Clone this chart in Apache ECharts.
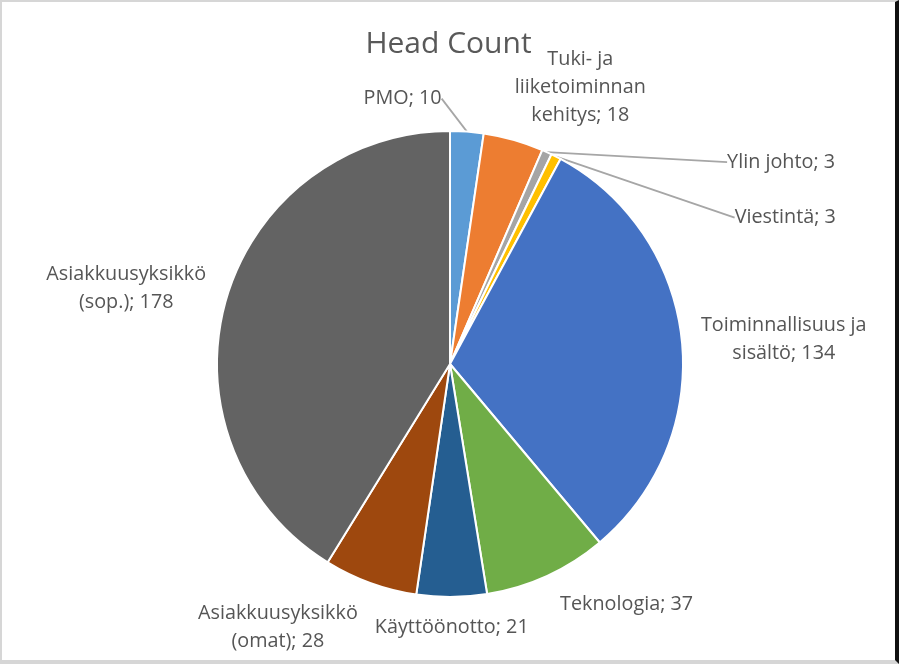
<!DOCTYPE html>
<html>
<head>
<meta charset="utf-8">
<script src="https://cdn.jsdelivr.net/npm/echarts@6/dist/echarts.min.js"></script>
<style>
  html, body { margin: 0; padding: 0; background: #fff; }
  #frame {
    position: absolute; left: 0; top: 0; width: 899px; height: 664px;
    box-sizing: border-box;
    border-left: 2px solid #d6d6d6; border-top: 2px solid #d6d6d6;
    border-right: 4px solid #111; border-bottom: 4px solid #d6d6d6;
  }
  #chart { width: 893px; height: 658px; }
</style>
</head>
<body>
<div id="frame"><div id="chart"></div></div>
<script>
// ---- data ----
const categories = ['PMO', 'Tuki- ja liiketoiminnan kehitys', 'Ylin johto', 'Viestintä',
  'Toiminnallisuus ja sisältö', 'Teknologia', 'Käyttöönotto',
  'Asiakkuusyksikkö (omat)', 'Asiakkuusyksikkö (sop.)'];
const values = [10, 18, 3, 3, 134, 37, 21, 28, 178];

// ---- styling ----
const colors = ['#5B9BD5', '#ED7D31', '#A5A5A5', '#FFC000', '#4472C4', '#70AD47', '#255E91', '#9E480E', '#636363'];
const labelLines = ['PMO', 'Tuki- ja\nliiketoiminnan\nkehitys', 'Ylin johto', 'Viestintä',
  'Toiminnallisuus ja\nsisältö', 'Teknologia', 'Käyttöönotto',
  'Asiakkuusyksikkö\n(omat)', 'Asiakkuusyksikkö\n(sop.)'];
const showLine = [true, false, true, true, false, false, false, false, false];
// label shift from library default: [dx, dy, align]
const labelShift = [
  [-31, -23, 'right'],
  [59, -43, 'center'],
  [171, 19, 'left'],
  [169, 70, 'left'],
  [87, 0, 'center'],
  [4, 19, 'left'],
  [-5, 20, 'center'],
  [-84, 35, 'center'],
  [-85, -9, 'center']
];

const chart = echarts.init(document.getElementById('chart'));
const option = {
  animation: false,
  title: {
    text: 'Head Count', left: 'center', top: 22,
    textStyle: { fontFamily: 'Open Sans', fontSize: 30, fontWeight: 'normal', color: '#595959' }
  },
  series: [{
    type: 'pie',
    center: [448, 362],
    radius: 233,
    startAngle: 90,
    clockwise: true,
    avoidLabelOverlap: false,
    itemStyle: { borderColor: '#fff', borderWidth: 2 },
    label: {
      show: true, position: 'outside',
      fontFamily: 'Open Sans', fontSize: 19.8, color: '#555555', lineHeight: 28,
      formatter: p => labelLines[p.dataIndex] + '; ' + p.value
    },
    labelLine: { show: false, length: 10, length2: 0, lineStyle: { color: '#A6A6A6', width: 1.8 } },
    labelLayout: function (params) {
      const s = labelShift[params.dataIndex];
      const r = params.labelRect;
      const ax = params.align === 'right' ? r.x + r.width : (params.align === 'center' ? r.x + r.width / 2 : r.x);
      const ay = r.y + r.height / 2;
      return { x: ax + s[0], y: ay + s[1], align: s[2], verticalAlign: 'middle' };
    },
    emphasis: { disabled: true },
    data: categories.map((c, i) => ({
      name: c, value: values[i],
      itemStyle: { color: colors[i] },
      labelLine: { show: showLine[i] }
    }))
  }]
};
chart.setOption(option);
</script>
</body>
</html>
